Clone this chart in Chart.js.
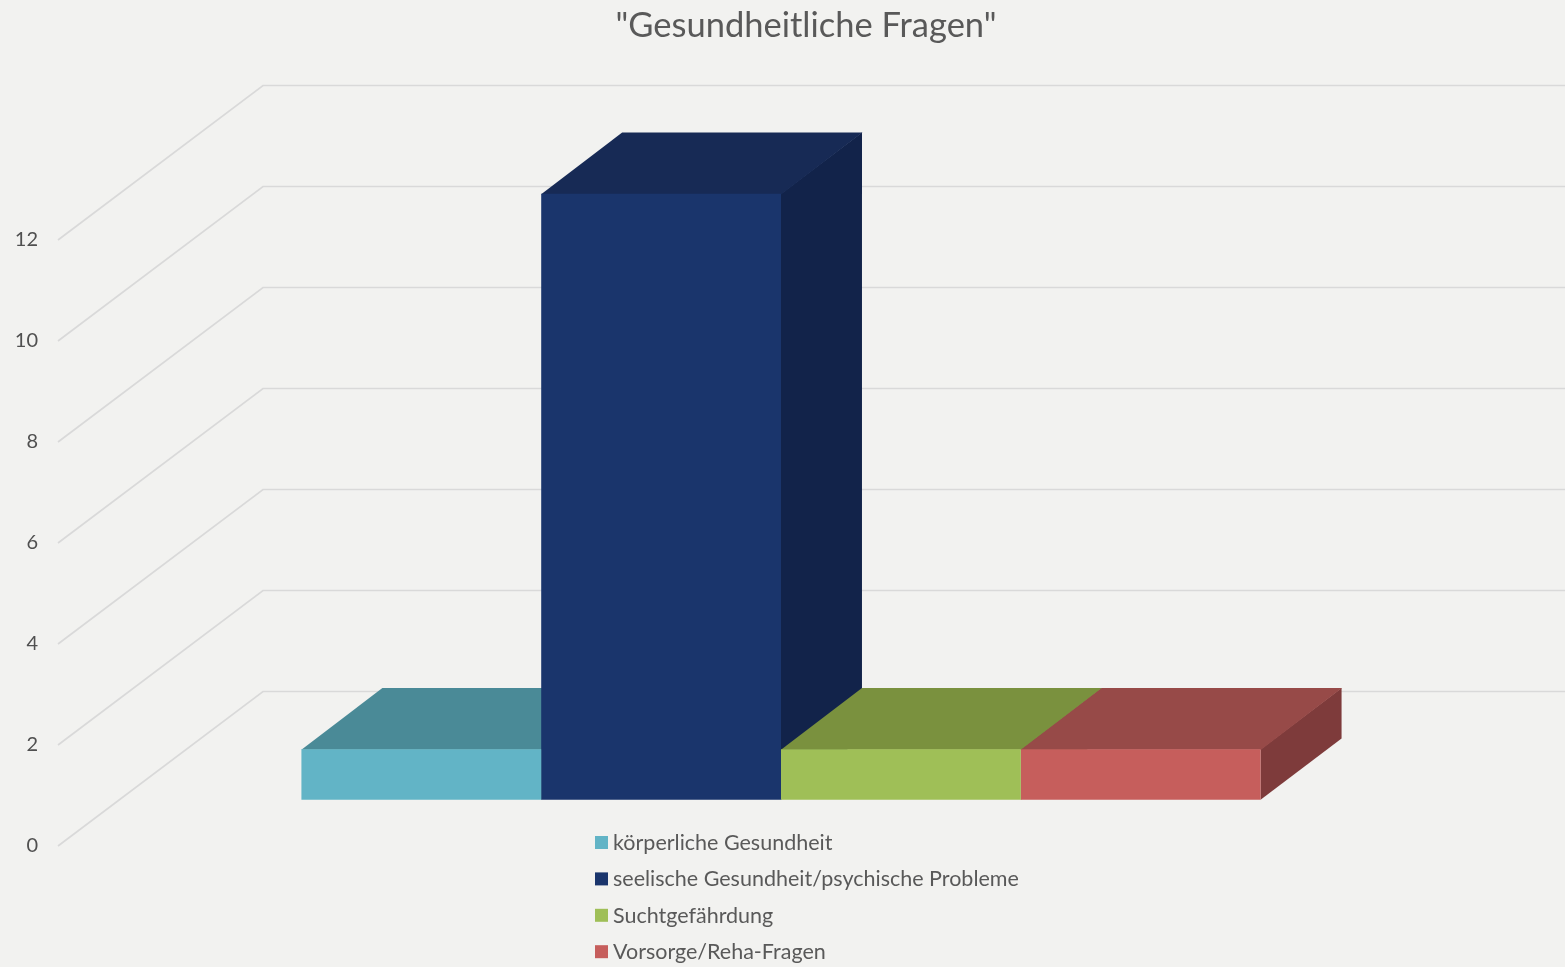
<!DOCTYPE html>
<html>
<head>
<meta charset="utf-8">
<script src="https://cdn.jsdelivr.net/npm/chart.js@4.4.1/dist/chart.umd.min.js"></script>
<style>
  html, body { margin: 0; padding: 0; background: #f2f2f0; }
  #wrap { width: 1565px; height: 967px; position: relative; }
</style>
</head>
<body>
<div id="wrap"><canvas id="graphCanvas"></canvas></div>
<script>
// data
var categories = [''];
var seriesNames = [
    'körperliche Gesundheit',
    'seelische Gesundheit/psychische Probleme',
    'Suchtgefährdung',
    'Vorsorge/Reha-Fragen'
];
var seriesValues = [1, 12, 1, 1];
var chartTitle = '"Gesundheitliche Fragen"';

// colours: front, top, side
var frontColors = ['#62b4c6', '#1a356c', '#9fbf57', '#c65e5c'];
var topColors = ['#4a8a97', '#172a55', '#7a913e', '#974a48'];
var sideColors = ['#3e7480', '#12234a', '#66793a', '#7e3b3b'];

var textColor = '#595959';
var gridColor = '#d9d9d9';
var depthX = 205, depthY = -154.5;   // full depth of the wall
var frontF = 0.30, backF = 0.695;    // where the bars sit in depth

var box3d = {
    id: 'box3d',
    beforeDatasetsDraw: function (chart) {
        var ctx = chart.ctx;
        var area = chart.chartArea;
        var y = chart.scales.y;

        // diagonal floor/wall lines and back wall gridlines
        ctx.save();
        ctx.strokeStyle = gridColor;
        ctx.lineWidth = 1.7;
        y.ticks.forEach(function (t) {
            var py = y.getPixelForValue(t.value);
            ctx.beginPath();
            ctx.moveTo(area.left, py);
            ctx.lineTo(area.left + depthX, py + depthY);
            ctx.lineTo(chart.width, py + depthY);
            ctx.stroke();
        });
        ctx.restore();

        // top and side faces, left to right
        var fx = frontF * depthX, fy = frontF * depthY;
        var bx = backF * depthX, by = backF * depthY;
        ctx.save();
        for (var i = 0; i < chart.data.datasets.length; i++) {
            var el = chart.getDatasetMeta(i).data[0];
            var p = el.getProps(['x', 'y', 'base', 'width'], true);
            var left = p.x - p.width / 2, right = p.x + p.width / 2;

            ctx.fillStyle = sideColors[i];
            ctx.beginPath();
            ctx.moveTo(right + fx, p.y + fy);
            ctx.lineTo(right + bx, p.y + by);
            ctx.lineTo(right + bx, p.base + by);
            ctx.lineTo(right + fx, p.base + fy);
            ctx.closePath();
            ctx.fill();

            ctx.fillStyle = topColors[i];
            ctx.beginPath();
            ctx.moveTo(left + fx, p.y + fy + 0.5);
            ctx.lineTo(right + fx + 0.5, p.y + fy + 0.5);
            ctx.lineTo(right + bx + 0.5, p.y + by);
            ctx.lineTo(left + bx, p.y + by);
            ctx.closePath();
            ctx.fill();
        }
        ctx.restore();

        // front faces are drawn by chart.js, moved into the bar plane
        ctx.save();
        ctx.translate(fx, fy);
    },
    afterDatasetsDraw: function (chart) {
        chart.ctx.restore();
    },
    afterDraw: function (chart) {
        var ctx = chart.ctx;
        ctx.save();
        ctx.fillStyle = textColor;
        ctx.font = '34.5px Lato';
        ctx.textAlign = 'center';
        ctx.textBaseline = 'alphabetic';
        ctx.fillText(chartTitle, 806, 37);

        // legend
        ctx.font = '21.5px Lato';
        ctx.textAlign = 'left';
        for (var i = 0; i < seriesNames.length; i++) {
            var cy = 842.5 + i * 36.4;
            ctx.fillStyle = frontColors[i];
            ctx.fillRect(595, cy - 6.5, 13, 13);
            ctx.fillStyle = textColor;
            ctx.fillText(seriesNames[i], 613, cy + 7.5);
        }
        ctx.restore();
    }
};

var datasets = [];
for (var i = 0; i < seriesNames.length; i++) {
    datasets.push({
        label: seriesNames[i],
        data: [seriesValues[i]],
        backgroundColor: frontColors[i],
        borderWidth: 0,
        clip: false,
        categoryPercentage: 0.725,
        barPercentage: 1
    });
}

var graphTarget = document.getElementById('graphCanvas');
var barGraph = new Chart(graphTarget, {
    type: 'bar',
    data: { labels: categories, datasets: datasets },
    options: {
        responsive: true,
        maintainAspectRatio: false,
        animation: false,
        layout: { padding: { left: 0, right: 184, top: 240, bottom: 121 } },
        plugins: {
            legend: { display: false },
            title: { display: false },
            tooltip: { enabled: false }
        },
        scales: {
            x: { display: false },
            y: {
                min: 0,
                max: 12,
                ticks: {
                    stepSize: 2,
                    padding: 20,
                    color: '#505050',
                    font: { family: 'Lato', size: 20 }
                },
                grid: { display: false, drawTicks: false },
                border: { display: false },
                afterFit: function (scale) { scale.width = 58; }
            }
        }
    },
    plugins: [box3d]
});
</script>
</body>
</html>
